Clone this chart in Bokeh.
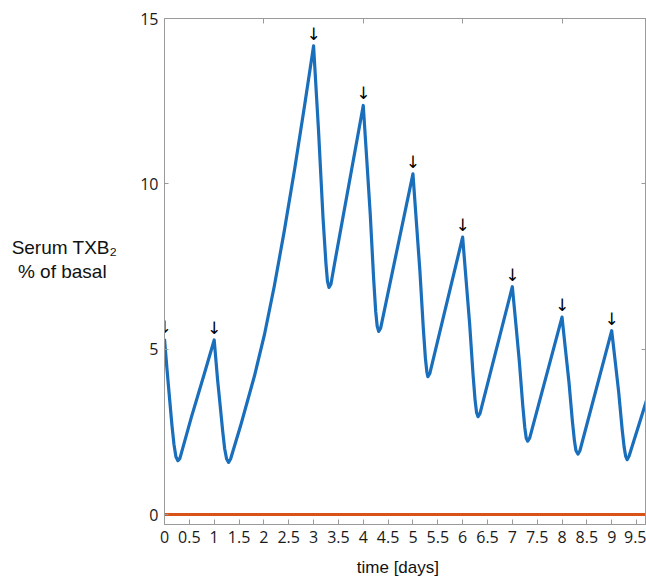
from bokeh.plotting import figure
from bokeh.models import LinearAxis, FixedTicker, Range1d, ColumnDataSource
from bokeh.core.properties import value
from bokeh.embed import file_html
from bokeh.resources import INLINE

# Serum TXB2 time course, % of basal, sampled along the time axis (days)
days = [0.00, 0.05, 0.10, 0.15, 0.19, 0.23, 0.27, 0.31, 0.54, 0.80, 1.00,
        1.07, 1.12, 1.17, 1.21, 1.25, 1.29, 1.33, 1.54, 1.81, 2.01, 2.21, 2.41, 2.62, 2.82, 3.00,
        3.10, 3.19, 3.25, 3.28, 3.31, 3.35, 3.42, 4.00,
        4.07, 4.14, 4.21, 4.25, 4.28, 4.31, 4.35, 5.00,
        5.07, 5.14, 5.21, 5.25, 5.28, 5.30, 5.34, 6.00,
        6.07, 6.14, 6.21, 6.25, 6.28, 6.31, 6.35, 7.00,
        7.07, 7.14, 7.21, 7.25, 7.28, 7.31, 7.35, 8.00,
        8.07, 8.14, 8.21, 8.25, 8.28, 8.32, 8.36, 9.00,
        9.07, 9.14, 9.21, 9.25, 9.28, 9.31, 9.35, 9.70]
txb2 = [5.31, 4.40, 3.54, 2.70, 2.13, 1.75, 1.63, 1.70, 2.94, 4.25, 5.28,
        4.05, 3.30, 2.54, 2.00, 1.68, 1.58, 1.68, 2.73, 4.19, 5.43, 6.91, 8.57, 10.46, 12.38, 14.17,
        11.60, 8.98, 7.57, 7.05, 6.87, 6.97, 7.57, 12.37,
        10.75, 9.10, 7.10, 6.15, 5.70, 5.54, 5.64, 10.30,
        8.83, 7.36, 5.60, 4.74, 4.31, 4.17, 4.27, 8.39,
        7.08, 5.79, 4.22, 3.47, 3.09, 2.96, 3.06, 6.89,
        5.78, 4.65, 3.30, 2.64, 2.31, 2.22, 2.32, 5.97,
        4.98, 4.00, 2.80, 2.23, 1.94, 1.83, 1.93, 5.56,
        4.64, 3.71, 2.58, 2.04, 1.77, 1.66, 1.77, 3.45]

# days on which a dose is given (marked by arrows)
dose_days = [0.00, 1.00, 3.00, 4.00, 5.00, 6.00, 7.00, 8.00, 9.00]

# zero reference line
ref_days = [0.0, 9.7]
ref_level = [0.0, 0.0]

x_ticks = [0, 0.5, 1, 1.5, 2, 2.5, 3, 3.5, 4, 4.5, 5, 5.5, 6, 6.5, 7, 7.5, 8, 8.5, 9, 9.5]
x_tick_labels = ["0", "0.5", "1", "1.5", "2", "2.5", "3", "3.5", "4", "4.5",
                 "5", "5.5", "6", "6.5", "7", "7.5", "8", "8.5", "9", "9.5"]
y_ticks = [0, 5, 10, 15]
y_tick_labels = ["0", "5", "10", "15"]
top_ticks = [2, 4, 6, 8]
right_ticks = [5, 10]

FRAME = "#9a9a9a"
TICK_FONT = "Open Sans"
TITLE_FONT = "Liberation Sans"
NBSP = "\u00a0"

p = figure(width=646, height=579,
           x_range=Range1d(0, 9.68), y_range=Range1d(-0.30, 15),
           output_backend="svg", toolbar_location=None,
           min_border_left=164, min_border_right=1,
           min_border_top=18, min_border_bottom=55)
p.background_fill_color = "white"
p.border_fill_color = "white"
p.outline_line_color = FRAME
p.outline_line_width = 1
p.xgrid.visible = False
p.ygrid.visible = False

# bottom axis
xa = p.xaxis[0]
xa.ticker = FixedTicker(ticks=x_ticks)
xa.major_label_overrides = {t: s for t, s in zip(x_ticks, x_tick_labels)}
xa.major_tick_in = 5
xa.major_tick_out = 0
xa.minor_tick_line_color = None
xa.axis_line_color = FRAME
xa.major_tick_line_color = FRAME
xa.major_label_text_font = TICK_FONT
xa.major_label_text_font_size = "16px"
xa.major_label_text_color = "#1a1a1a"
xa.major_label_standoff = 6
# trailing spaces nudge the centred title a little to the left
xa.axis_label = "time [days]" + NBSP * 3
xa.axis_label_text_font = TITLE_FONT
xa.axis_label_text_font_size = "17px"
xa.axis_label_text_font_style = "normal"
xa.axis_label_text_color = "#111111"
xa.axis_label_standoff = 12

# left axis, with a two-line horizontal title
ya = p.yaxis[0]
ya.ticker = FixedTicker(ticks=y_ticks)
ya.major_label_overrides = {t: s for t, s in zip(y_ticks, y_tick_labels)}
ya.major_tick_in = 4
ya.major_tick_out = 0
ya.minor_tick_line_color = None
ya.axis_line_color = FRAME
ya.major_tick_line_color = FRAME
ya.major_label_text_font = TICK_FONT
ya.major_label_text_font_size = "16px"
ya.major_label_text_color = "#1a1a1a"
ya.major_label_standoff = 6
ya.axis_label = "Serum TXB\u2082\n% of basal" + NBSP * 2 + "\n" + NBSP
ya.axis_label_orientation = "horizontal"
ya.axis_label_text_align = "center"
ya.axis_label_text_font = TITLE_FONT
ya.axis_label_text_font_size = "19px"
ya.axis_label_text_font_style = "normal"
ya.axis_label_text_color = "#111111"
ya.axis_label_text_line_height = 1.15
ya.axis_label_standoff = 20

# top and right axes carry ticks only
top = LinearAxis(ticker=FixedTicker(ticks=top_ticks), major_tick_in=5, major_tick_out=0,
                 minor_tick_line_color=None, axis_line_color=FRAME,
                 major_tick_line_color=FRAME, major_label_text_font_size="0px",
                 major_label_standoff=0)
right = LinearAxis(ticker=FixedTicker(ticks=right_ticks), major_tick_in=4, major_tick_out=0,
                   minor_tick_line_color=None, axis_line_color=FRAME,
                   major_tick_line_color=FRAME, major_label_text_font_size="0px",
                   major_label_standoff=0)
p.add_layout(top, "above")
p.add_layout(right, "right")

p.line(ref_days, ref_level, line_color="#d95319", line_width=3)
p.line(days, txb2, line_color="#1a6fbd", line_width=3.2, line_join="round")

# arrows over each dose peak, at the curve's value on that day
arrow_y = [txb2[days.index(d)] for d in dose_days]
arrows = ColumnDataSource(dict(x=dose_days, y=arrow_y, t=["\u2193"] * len(dose_days)))
p.text(x="x", y="y", text="t", source=arrows, text_font=value("DejaVu Sans"),
       text_font_size="17px", text_align="center", text_baseline="alphabetic",
       y_offset=-12, text_color="#000000")

open("out.html", "w").write(file_html(p, INLINE))
